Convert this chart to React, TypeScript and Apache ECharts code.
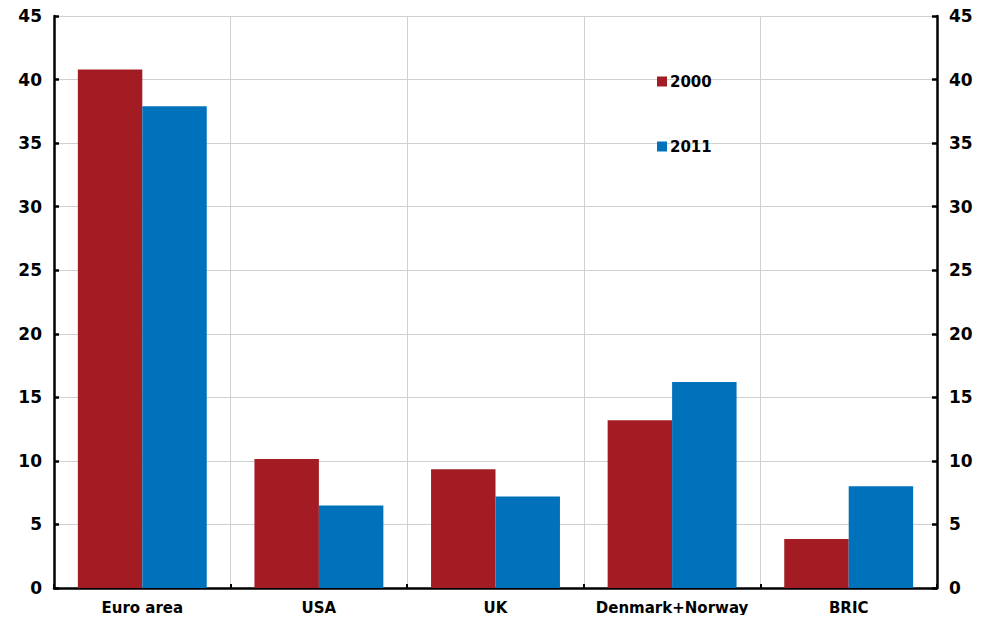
import React, { useEffect, useRef } from "react";
import * as echarts from "echarts";

const categories = ["Euro area", "USA", "UK", "Denmark+Norway", "BRIC"];
const values2000 = [40.8, 10.15, 9.35, 13.2, 3.85];
const values2011 = [37.9, 6.5, 7.2, 16.2, 8.0];
const seriesNames = ["2000", "2011"];

const FONT = "DejaVu Sans";

export default function App() {
  const ref = useRef<HTMLDivElement>(null);
  useEffect(() => {
    if (!ref.current) return;
    const chart = echarts.init(ref.current, null, { renderer: "svg" });
    const yAxisBase = {
      type: "value",
      min: 0,
      max: 45,
      interval: 5,
      axisLine: { show: true, lineStyle: { color: "#000", width: 2.5 } },
      axisTick: { show: true, inside: true, length: 5, lineStyle: { color: "#000", width: 2.5 } },
      axisLabel: { color: "#000", fontFamily: FONT, fontWeight: "bold", fontSize: 17, margin: 12 },
    };
    chart.setOption({
      animation: false,
      grid: { left: 54, right: 48, top: 16, bottom: 35, containLabel: false },
      legend: {
        orient: "vertical",
        left: 652,
        top: 69,
        itemWidth: 10,
        itemHeight: 10,
        itemGap: 50,
        icon: "rect",
        data: seriesNames,
        textStyle: { color: "#000", fontFamily: FONT, fontWeight: "bold", fontSize: 15, padding: [0, 0, 0, -2] },
      },
      xAxis: {
        type: "category",
        data: categories,
        axisLine: { show: true, lineStyle: { color: "#000", width: 2.5 } },
        axisTick: { show: true, inside: true, length: 4, interval: 0, lineStyle: { color: "#000", width: 2 } },
        axisLabel: { color: "#000", fontFamily: FONT, fontWeight: "bold", fontSize: 15, margin: 12, interval: 0 },
        splitLine: { show: true, interval: 0, lineStyle: { color: "#d0d0d0", width: 1 } },
      },
      yAxis: [
        {
          ...yAxisBase,
          position: "left",
          splitLine: { show: true, lineStyle: { color: "#d0d0d0", width: 1 } },
        },
        {
          ...yAxisBase,
          position: "right",
          splitLine: { show: false },
        },
      ],
      series: [
        {
          name: seriesNames[0],
          type: "bar",
          data: values2000,
          itemStyle: { color: "#A31C23" },
          barGap: "0%",
          barCategoryGap: "27%",
        },
        {
          name: seriesNames[1],
          type: "bar",
          data: values2011,
          itemStyle: { color: "#0072BC" },
          barGap: "0%",
          barCategoryGap: "27%",
        },
      ],
    });
    return () => chart.dispose();
  }, []);
  return <div ref={ref} style={{ width: 985, height: 623, margin: -8 }} />;
}
